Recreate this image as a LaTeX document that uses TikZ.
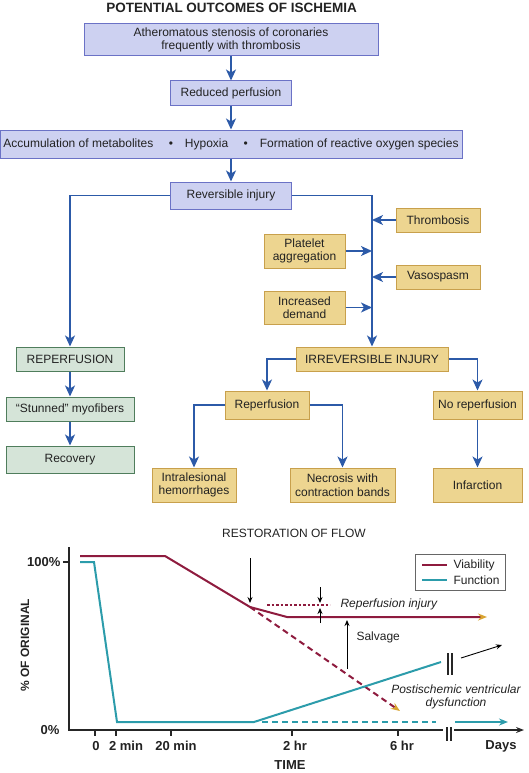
\documentclass[tikz,border=0pt]{standalone}
\usepackage{fontspec}
\setmainfont{Liberation Sans}
\usetikzlibrary{arrows.meta,positioning,calc}
\definecolor{ink}{HTML}{222222}
\definecolor{flow}{HTML}{2C5AA8}
\definecolor{lavfill}{HTML}{CDD1F1}
\definecolor{lavline}{HTML}{6B72C6}
\definecolor{ochfill}{HTML}{EDD590}
\definecolor{ochline}{HTML}{C8A04C}
\definecolor{sagefill}{HTML}{D5E4D8}
\definecolor{sageline}{HTML}{4F7D5C}
\definecolor{viab}{HTML}{8E1B3E}
\definecolor{func}{HTML}{2C9CAB}
\definecolor{tipgold}{HTML}{D9A431}
\newcommand{\txt}{\fontsize{12}{13.5}\selectfont}
\newcommand{\tbf}{\fontsize{13}{15}\bfseries}

\begin{document}
\begin{tikzpicture}[x=1pt, y=-1pt,
  every node/.style={font=\txt, text=ink},
  box/.style={rectangle, draw=lavline, line width=1pt, fill=lavfill,
              align=center, inner sep=2pt},
  ybox/.style={box, draw=ochline, fill=ochfill},
  gbox/.style={box, draw=sageline, fill=sagefill},
  ar/.style={-{Stealth[length=11pt,width=10pt,inset=3pt]}, line width=1.5pt, draw=flow},
  axis/.style={line width=1.2pt, draw=black!85},
  blk/.style={-{Stealth[length=6pt,width=5pt]}, line width=0.9pt, draw=black},
  vline/.style={line width=2pt, draw=viab},
  fline/.style={line width=2pt, draw=func},
  gtip/.style={-{Stealth[length=9pt,width=7pt,color=tipgold]}},
  tlbl/.style={font=\tbf}
]
\useasboundingbox (0,0) rectangle (529,773);

\node[font=\fontsize{13.5}{15}\bfseries] (title) at (231.5,8) {POTENTIAL OUTCOMES OF ISCHEMIA};

\node[box, minimum width=294pt, minimum height=32pt] (athero) at (231,40)
  {Atheromatous stenosis of coronaries\\frequently with thrombosis};
\node[box, minimum width=121pt, minimum height=25pt, below=24pt of athero] (reduced)
  {Reduced perfusion};
\node[box, minimum width=462pt, minimum height=28pt, below=23pt of reduced] (accum)
  {Accumulation of metabolites \quad\textbullet\quad Hypoxia \quad\textbullet\quad
   Formation of reactive oxygen species};
\node[box, minimum width=121pt, minimum height=27pt, below=23pt of accum] (revers)
  {Reversible injury};

\node[ybox, minimum width=84pt, minimum height=24pt] (thromb) at (438,220) {Thrombosis};
\node[ybox, minimum width=81pt, minimum height=34pt] (platelet) at (304.5,251) {Platelet\\aggregation};
\node[ybox, minimum width=84pt, minimum height=24pt] (vaso) at (438,277) {Vasospasm};
\node[ybox, minimum width=81pt, minimum height=33pt] (demand) at (304.5,307.5) {Increased\\demand};

\node[ybox, minimum width=152pt, minimum height=24pt] (irrev) at (372,359) {IRREVERSIBLE INJURY};
\node[gbox, minimum width=108pt, minimum height=24pt] (reperfG) at (70,359) {REPERFUSION};
\node[gbox, minimum width=128pt, minimum height=24pt, below=25pt of reperfG] (stunned)
  {“Stunned” myofibers};
\node[gbox, minimum width=128pt, minimum height=27pt, below=24pt of stunned] (recovery)
  {Recovery};

\node[ybox, minimum width=84pt, minimum height=28pt] (reperfY) at (267,405) {Reperfusion};
\node[ybox, minimum width=89pt, minimum height=28pt] (noreperf) at (477.5,405) {No reperfusion};
\node[ybox, minimum width=84pt, minimum height=34pt] (intral) at (194,485) {Intralesional\\hemorrhages};
\node[ybox, minimum width=105pt, minimum height=34pt] (necrosis) at (342.5,485) {Necrosis with\\contraction bands};
\node[ybox, minimum width=89pt, minimum height=34pt] (infarct) at (477.5,485) {Infarction};

\draw[ar] (athero) -- (reduced);
\draw[ar] (reduced) -- (accum);
\draw[ar] (accum) -- (revers);
\draw[ar] (revers.west) -| (reperfG.north);
\draw[ar] (revers.east) -| (irrev.north);
\draw[ar] (thromb.west) -- (thromb.west -| irrev.north);
\draw[ar] (platelet.east) -- (platelet.east -| irrev.north);
\draw[ar] (vaso.west) -- (vaso.west -| irrev.north);
\draw[ar] (demand.east) -- (demand.east -| irrev.north);
\draw[ar] (reperfG) -- (stunned);
\draw[ar] (stunned) -- (recovery);
\draw[ar] (irrev.west) -| (reperfY.north);
\draw[ar] (irrev.east) -| (noreperf.north);
\draw[ar] (reperfY.west) -| (intral.north);
\draw[ar] (reperfY.east) -| (necrosis.north);
\draw[ar] (noreperf) -- (infarct);

\node (flowlbl) at (294,533) {RESTORATION OF FLOW};

\draw[axis] (69,547) -- (69,730) -- (443,730);
\draw[axis, -{Stealth[length=8pt,width=6pt]}] (454,730) -- (524,730);
\draw[axis] (447,727) -- (447,741) (451,727) -- (451,741);
\draw[axis] (448,653) -- (448,675) (452,653) -- (452,675);
\draw[axis] (63,562) -- (69,562);
\foreach \x in {95,116,171,292,398}
  \draw[axis] (\x,730) -- (\x,736);

\node[tlbl, anchor=east] (pfull) at (64,562) {100\%};
\node[tlbl, anchor=east] (pnone) at (63,730) {0\%};
\node[tlbl] (t0) at (96,746) {0};
\node[tlbl] (t2m) at (126,746) {2 min};
\node[tlbl] (t20m) at (176,746) {20 min};
\node[tlbl] (t2h) at (295,746) {2 hr};
\node[tlbl] (t6h) at (402,746) {6 hr};
\node[tlbl] (tdays) at (501,746) {Days};
\node[tlbl] (time) at (290,765) {TIME};
\node[font=\fontsize{12}{14}\bfseries, rotate=90] (pct) at (25,645) {\% OF ORIGINAL};

\draw[vline, gtip] (80,556) -- (165,556) -- (250,607) -- (287,617) -- (487,617);
\draw[vline, gtip, dash pattern=on 6pt off 4pt] (250,607) -- (400,711);
\draw[vline, dash pattern=on 2.5pt off 2pt] (267,605) -- (330,605);
\draw[fline] (80,562) -- (94,562) -- (117,722) -- (254,722) -- (441,662);
\draw[fline, dash pattern=on 6pt off 4pt] (262,722) -- (436,722);
\draw[fline, -{Stealth[length=9pt,width=7pt]}] (455,722) -- (508,722);

\draw[blk] (250,558) -- (250,603);
\draw[blk] (320,587) -- (320,603);
\draw[blk] (320,623) -- (320,608);
\draw[blk] (347,669) -- (347,620);
\draw[blk] (461,658) -- (502,645);

\node[font=\txt\itshape, anchor=west] (reinj) at (337,604) {Reperfusion injury};
\node[anchor=west] (salv) at (353,637) {Salvage};
\node[font=\txt\itshape, align=center] (pvd) at (456,697) {Postischemic ventricular\\dysfunction};

\draw[draw=black!60, line width=0.8pt] (415,554) rectangle (505,590);
\draw[vline] (422,565) -- (447,565);
\node[anchor=west] (lgv) at (450,565) {Viability};
\draw[fline] (422,580) -- (447,580);
\node[anchor=west] (lgf) at (450,580) {Function};
\end{tikzpicture}
\end{document}
